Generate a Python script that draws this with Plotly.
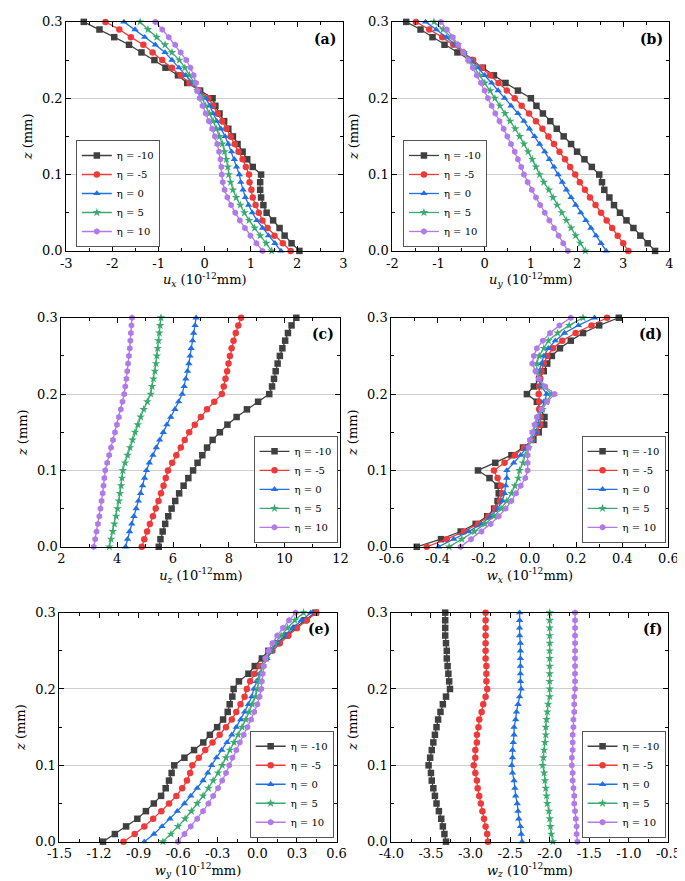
import plotly.graph_objects as go

Z = [0.00, 0.01, 0.02, 0.03, 0.04, 0.05, 0.06, 0.07, 0.08, 0.09, 0.10,
     0.11, 0.12, 0.13, 0.14, 0.15, 0.16, 0.17, 0.18, 0.19, 0.20,
     0.21, 0.22, 0.23, 0.24, 0.25, 0.26, 0.27, 0.28, 0.29, 0.30]
ETA_LABELS = ["η = -10", "η = -5", "η = 0", "η = 5", "η = 10"]

# (a) u_x
UX_M10 = [2.05, 1.88, 1.73, 1.62, 1.48, 1.34, 1.27, 1.22, 1.20, 1.20, 1.22, 1.04, 0.92, 0.82, 0.71, 0.61, 0.51, 0.42, 0.32, 0.23, 0.17, -0.10, -0.38, -0.58, -0.85, -1.09, -1.37, -1.64, -1.96, -2.28, -2.62]
UX_M5 = [1.86, 1.69, 1.51, 1.36, 1.25, 1.17, 1.10, 1.04, 1.01, 0.97, 0.96, 0.89, 0.82, 0.73, 0.65, 0.56, 0.47, 0.38, 0.28, 0.18, 0.08, -0.13, -0.33, -0.52, -0.71, -0.92, -1.13, -1.33, -1.60, -1.85, -2.15]
UX_0 = [1.65, 1.52, 1.38, 1.25, 1.13, 1.03, 0.95, 0.88, 0.83, 0.78, 0.75, 0.69, 0.64, 0.58, 0.51, 0.44, 0.35, 0.26, 0.18, 0.11, 0.02, -0.15, -0.26, -0.41, -0.56, -0.71, -0.86, -1.07, -1.30, -1.51, -1.75]
UX_5 = [1.45, 1.33, 1.20, 1.08, 0.96, 0.86, 0.77, 0.68, 0.61, 0.56, 0.52, 0.50, 0.47, 0.43, 0.38, 0.32, 0.25, 0.18, 0.10, 0.02, -0.06, -0.16, -0.22, -0.33, -0.43, -0.55, -0.71, -0.86, -1.04, -1.23, -1.40]
UX_10 = [1.25, 1.12, 0.99, 0.87, 0.76, 0.66, 0.57, 0.49, 0.43, 0.39, 0.37, 0.36, 0.34, 0.31, 0.27, 0.22, 0.16, 0.09, 0.02, -0.05, -0.11, -0.16, -0.19, -0.24, -0.31, -0.40, -0.52, -0.64, -0.78, -0.92, -1.07]

# (b) u_y
UY_M10 = [3.69, 3.53, 3.37, 3.22, 3.07, 2.93, 2.80, 2.70, 2.59, 2.54, 2.48, 2.32, 2.16, 2.00, 1.87, 1.71, 1.56, 1.42, 1.26, 1.12, 1.00, 0.72, 0.45, 0.20, -0.04, -0.32, -0.59, -0.87, -1.13, -1.39, -1.70]
UY_M5 = [3.11, 3.00, 2.88, 2.76, 2.64, 2.52, 2.40, 2.28, 2.17, 2.06, 1.96, 1.85, 1.74, 1.62, 1.50, 1.38, 1.25, 1.11, 0.96, 0.80, 0.65, 0.48, 0.30, 0.12, -0.06, -0.25, -0.46, -0.68, -0.92, -1.20, -1.49]
UY_0 = [2.63, 2.52, 2.41, 2.30, 2.19, 2.08, 1.97, 1.87, 1.77, 1.68, 1.59, 1.50, 1.40, 1.30, 1.19, 1.08, 0.97, 0.85, 0.72, 0.57, 0.43, 0.29, 0.15, 0.00, -0.14, -0.29, -0.45, -0.63, -0.83, -1.05, -1.28]
UY_5 = [2.18, 2.07, 1.97, 1.87, 1.77, 1.67, 1.57, 1.48, 1.39, 1.28, 1.19, 1.11, 1.03, 0.94, 0.85, 0.76, 0.66, 0.55, 0.44, 0.33, 0.22, 0.12, 0.00, -0.11, -0.22, -0.33, -0.45, -0.58, -0.73, -0.90, -1.10]
UY_10 = [1.80, 1.70, 1.60, 1.50, 1.40, 1.30, 1.20, 1.11, 1.02, 0.93, 0.85, 0.79, 0.72, 0.65, 0.57, 0.49, 0.41, 0.32, 0.23, 0.15, 0.07, 0.00, -0.08, -0.17, -0.26, -0.36, -0.46, -0.57, -0.69, -0.82, -0.95]

# (c) u_z
UZ_M10 = [5.49, 5.55, 5.63, 5.72, 5.83, 5.95, 6.08, 6.22, 6.38, 6.55, 6.72, 6.88, 7.05, 7.22, 7.42, 7.68, 7.95, 8.28, 8.65, 9.05, 9.45, 9.55, 9.62, 9.68, 9.75, 9.83, 9.92, 10.02, 10.12, 10.25, 10.42]
UZ_M5 = [4.88, 4.97, 5.07, 5.17, 5.28, 5.38, 5.48, 5.57, 5.66, 5.74, 5.82, 5.97, 6.12, 6.28, 6.42, 6.58, 6.78, 7.00, 7.22, 7.48, 7.75, 7.82, 7.88, 7.94, 7.99, 8.04, 8.10, 8.17, 8.25, 8.34, 8.44]
UZ_0 = [4.30, 4.37, 4.44, 4.52, 4.60, 4.68, 4.76, 4.84, 4.91, 4.98, 5.05, 5.15, 5.28, 5.40, 5.52, 5.65, 5.78, 5.92, 6.07, 6.20, 6.33, 6.40, 6.46, 6.52, 6.57, 6.61, 6.65, 6.70, 6.74, 6.79, 6.83]
UZ_5 = [3.72, 3.78, 3.84, 3.90, 3.96, 4.01, 4.06, 4.10, 4.14, 4.17, 4.20, 4.28, 4.37, 4.46, 4.55, 4.64, 4.74, 4.84, 4.95, 5.08, 5.20, 5.25, 5.30, 5.35, 5.39, 5.42, 5.45, 5.48, 5.51, 5.54, 5.57]
UZ_10 = [3.16, 3.21, 3.26, 3.31, 3.36, 3.40, 3.44, 3.48, 3.51, 3.54, 3.57, 3.64, 3.71, 3.78, 3.85, 3.92, 3.99, 4.06, 4.13, 4.19, 4.25, 4.29, 4.33, 4.36, 4.39, 4.42, 4.45, 4.47, 4.49, 4.51, 4.53]

# (d) w_x
WX_M10 = [-0.49, -0.385, -0.30, -0.235, -0.185, -0.155, -0.14, -0.135, -0.14, -0.175, -0.225, -0.15, -0.08, -0.03, 0.015, 0.038, 0.062, 0.063, 0.045, 0.03, -0.013, 0.017, 0.04, 0.06, 0.075, 0.095, 0.13, 0.177, 0.23, 0.30, 0.385]
WX_M5 = [-0.447, -0.36, -0.285, -0.225, -0.18, -0.15, -0.13, -0.12, -0.125, -0.14, -0.156, -0.11, -0.065, -0.025, 0.01, 0.03, 0.045, 0.045, 0.04, 0.04, 0.038, 0.04, 0.045, 0.05, 0.06, 0.075, 0.10, 0.14, 0.198, 0.267, 0.334]
WX_0 = [-0.396, -0.33, -0.265, -0.21, -0.17, -0.14, -0.12, -0.11, -0.105, -0.10, -0.10, -0.07, -0.04, -0.015, 0.01, 0.025, 0.035, 0.04, 0.05, 0.06, 0.073, 0.05, 0.04, 0.04, 0.05, 0.06, 0.08, 0.11, 0.15, 0.21, 0.28]
WX_5 = [-0.35, -0.295, -0.24, -0.195, -0.155, -0.125, -0.10, -0.08, -0.065, -0.05, -0.045, -0.03, -0.02, -0.005, 0.005, 0.015, 0.025, 0.035, 0.055, 0.072, 0.093, 0.06, 0.04, 0.03, 0.03, 0.04, 0.06, 0.08, 0.12, 0.17, 0.23]
WX_10 = [-0.30, -0.255, -0.21, -0.17, -0.135, -0.105, -0.08, -0.06, -0.04, -0.02, -0.01, -0.01, -0.01, -0.005, 0.0, 0.01, 0.02, 0.03, 0.05, 0.075, 0.107, 0.066, 0.038, 0.024, 0.01, 0.017, 0.03, 0.056, 0.087, 0.128, 0.177]

# (e) w_y
WY_M10 = [-1.17, -1.08, -0.995, -0.91, -0.845, -0.785, -0.73, -0.695, -0.67, -0.65, -0.63, -0.553, -0.48, -0.41, -0.36, -0.305, -0.26, -0.225, -0.21, -0.19, -0.18, -0.14, -0.068, -0.02, 0.034, 0.083, 0.15, 0.22, 0.29, 0.36, 0.44]
WY_M5 = [-1.015, -0.93, -0.857, -0.79, -0.728, -0.67, -0.614, -0.57, -0.534, -0.51, -0.493, -0.444, -0.395, -0.34, -0.286, -0.238, -0.194, -0.16, -0.128, -0.097, -0.08, -0.055, -0.02, 0.017, 0.065, 0.114, 0.17, 0.235, 0.30, 0.375, 0.447]
WY_0 = [-0.857, -0.784, -0.723, -0.663, -0.607, -0.553, -0.505, -0.456, -0.412, -0.376, -0.347, -0.31, -0.27, -0.23, -0.194, -0.16, -0.126, -0.097, -0.068, -0.043, -0.027, -0.007, 0.017, 0.041, 0.073, 0.107, 0.15, 0.204, 0.267, 0.333, 0.405]
WY_5 = [-0.716, -0.655, -0.602, -0.548, -0.50, -0.456, -0.412, -0.371, -0.335, -0.298, -0.267, -0.238, -0.209, -0.177, -0.146, -0.116, -0.087, -0.063, -0.039, -0.014, 0.0, 0.01, 0.024, 0.041, 0.066, 0.097, 0.133, 0.18, 0.228, 0.284, 0.35]
WY_10 = [-0.602, -0.553, -0.505, -0.456, -0.412, -0.371, -0.335, -0.298, -0.267, -0.238, -0.213, -0.189, -0.16, -0.133, -0.104, -0.075, -0.048, -0.024, 0.0, 0.017, 0.03, 0.034, 0.041, 0.049, 0.061, 0.083, 0.114, 0.15, 0.194, 0.24, 0.29]

# (f) w_z
WZ_M10 = [-3.31, -3.33, -3.35, -3.37, -3.40, -3.43, -3.45, -3.47, -3.49, -3.50, -3.53, -3.51, -3.49, -3.47, -3.45, -3.43, -3.41, -3.38, -3.35, -3.31, -3.26, -3.27, -3.28, -3.29, -3.30, -3.30, -3.31, -3.32, -3.32, -3.32, -3.32]
WZ_M5 = [-2.78, -2.79, -2.81, -2.83, -2.85, -2.87, -2.89, -2.91, -2.92, -2.94, -2.96, -2.94, -2.94, -2.92, -2.92, -2.90, -2.89, -2.86, -2.84, -2.81, -2.79, -2.80, -2.80, -2.80, -2.81, -2.81, -2.81, -2.81, -2.81, -2.81, -2.81]
WZ_0 = [-2.35, -2.36, -2.37, -2.39, -2.40, -2.41, -2.43, -2.44, -2.45, -2.47, -2.48, -2.47, -2.47, -2.46, -2.45, -2.45, -2.43, -2.42, -2.40, -2.38, -2.36, -2.37, -2.37, -2.37, -2.37, -2.37, -2.37, -2.38, -2.38, -2.38, -2.38]
WZ_5 = [-1.96, -1.98, -1.99, -2.00, -2.01, -2.03, -2.04, -2.05, -2.06, -2.07, -2.09, -2.08, -2.07, -2.06, -2.05, -2.05, -2.04, -2.03, -2.02, -2.00, -2.00, -2.00, -2.00, -2.00, -2.00, -2.00, -2.00, -2.00, -2.00, -2.00, -2.00]
WZ_10 = [-1.65, -1.66, -1.66, -1.67, -1.68, -1.69, -1.69, -1.70, -1.71, -1.71, -1.72, -1.72, -1.71, -1.71, -1.71, -1.70, -1.70, -1.69, -1.69, -1.69, -1.68, -1.68, -1.68, -1.68, -1.68, -1.68, -1.68, -1.68, -1.68, -1.68, -1.68]

# tick labels
XT_A = [-3, -2, -1, 0, 1, 2, 3]
XL_A = ["-3", "-2", "-1", "0", "1", "2", "3"]
XT_B = [-2, -1, 0, 1, 2, 3, 4]
XL_B = ["-2", "-1", "0", "1", "2", "3", "4"]
XT_C = [2, 4, 6, 8, 10, 12]
XL_C = ["2", "4", "6", "8", "10", "12"]
XT_D = [-0.6, -0.4, -0.2, 0.0, 0.2, 0.4, 0.6]
XL_D = ["-0.6", "-0.4", "-0.2", "0.0", "0.2", "0.4", "0.6"]
XT_E = [-1.5, -1.2, -0.9, -0.6, -0.3, 0.0, 0.3, 0.6]
XL_E = ["-1.5", "-1.2", "-0.9", "-0.6", "-0.3", "0.0", "0.3", "0.6"]
XT_F = [-4.0, -3.5, -3.0, -2.5, -2.0, -1.5, -1.0, -0.5]
XL_F = ["-4.0", "-3.5", "-3.0", "-2.5", "-2.0", "-1.5", "-1.0", "-0.5"]
YT = [0.0, 0.1, 0.2, 0.3]
YL = ["0.0", "0.1", "0.2", "0.3"]

COLORS = ["#404040", "#f03a3a", "#1f6fe6", "#3aab6e", "#b27ae8"]
SYMBOLS = ["square", "circle", "triangle-up", "star", "hexagon"]
FONT = "DejaVu Serif"

W, H = 685, 881
panels = [
    dict(series=[UX_M10, UX_M5, UX_0, UX_5, UX_10], box=(47, 335, 7, 240), xt=XT_A, xl=XL_A,
         rng=[-3, 3], minor=0.5, title="<i>u<sub>x</sub></i> (10<sup>-12</sup>mm)", label="(a)",
         leg=(57, 236, "left")),
    dict(series=[UY_M10, UY_M5, UY_0, UY_5, UY_10], box=(386, 674, 7, 240), xt=XT_B, xl=XL_B,
         rng=[-2, 4], minor=0.5, title="<i>u<sub>y</sub></i> (10<sup>-12</sup>mm)", label="(b)",
         leg=(397, 236, "left")),
    dict(series=[UZ_M10, UZ_M5, UZ_0, UZ_5, UZ_10], box=(42, 332, 308, 541), xt=XT_C, xl=XL_C,
         rng=[2, 12], minor=1, title="<i>u<sub>z</sub></i> (10<sup>-12</sup>mm)", label="(c)",
         leg=(329, 537, "right")),
    dict(series=[WX_M10, WX_M5, WX_0, WX_5, WX_10], box=(385, 673, 308, 541), xt=XT_D, xl=XL_D,
         rng=[-0.6, 0.6], minor=0.1, title="<i>w<sub>x</sub></i> (10<sup>-12</sup>mm)", label="(d)",
         leg=(670, 537, "right")),
    dict(series=[WY_M10, WY_M5, WY_0, WY_5, WY_10], box=(40, 328, 608, 841), xt=XT_E, xl=XL_E,
         rng=[-1.5, 0.6], minor=0.15, title="<i>w<sub>y</sub></i> (10<sup>-12</sup>mm)", label="(e)",
         leg=(325, 837, "right")),
    dict(series=[WZ_M10, WZ_M5, WZ_0, WZ_5, WZ_10], box=(385, 673, 608, 841), xt=XT_F, xl=XL_F,
         rng=[-4.0, -0.5], minor=0.25, title="<i>w<sub>z</sub></i> (10<sup>-12</sup>mm)", label="(f)",
         leg=(670, 837, "right")),
]

fig = go.Figure()
layout = dict(width=W, height=H, margin=dict(l=0, r=0, t=0, b=0),
              paper_bgcolor="white", plot_bgcolor="white",
              font=dict(family=FONT, size=13, color="black"), annotations=[])

for i, p in enumerate(panels):
    n = "" if i == 0 else str(i + 1)
    legname = "legend" + n
    for k, vals in enumerate(p["series"]):
        fig.add_trace(go.Scatter(
            x=vals, y=Z, mode="lines+markers", name=ETA_LABELS[k],
            line=dict(color=COLORS[k], width=1.3),
            marker=dict(symbol=SYMBOLS[k], size=6.5, color=COLORS[k], line=dict(width=0)),
            xaxis="x" + n, yaxis="y" + n, legend=legname, cliponaxis=False,
        ))
    x0, x1, y0, y1 = p["box"]
    layout["xaxis" + n] = dict(
        domain=[x0 / W, x1 / W], anchor="y" + n, range=p["rng"],
        tickvals=p["xt"], ticktext=p["xl"], showgrid=False, zeroline=False,
        showline=True, linecolor="black", linewidth=1, mirror="ticks",
        ticks="inside", ticklen=5, tickcolor="black",
        minor=dict(ticks="inside", ticklen=3, dtick=p["minor"], tickcolor="black", showgrid=False),
        tickfont=dict(family=FONT, size=13), title=dict(text=p["title"], font=dict(family=FONT, size=13), standoff=2),
    )
    layout["yaxis" + n] = dict(
        domain=[1 - y1 / H, 1 - y0 / H], anchor="x" + n, range=[0, 0.3],
        tickvals=YT, ticktext=YL, showgrid=True, gridcolor="#cfcfcf", gridwidth=1, zeroline=False,
        showline=True, linecolor="black", linewidth=1, mirror="ticks",
        ticks="inside", ticklen=5, tickcolor="black",
        minor=dict(ticks="inside", ticklen=3, dtick=0.05, tickcolor="black", showgrid=False),
        tickfont=dict(family=FONT, size=13), title=dict(text="<i>z</i> (mm)", font=dict(family=FONT, size=13), standoff=6),
    )
    lx, ly, side = p["leg"]
    layout[legname] = dict(
        x=lx / W, y=1 - ly / H, xanchor=side, yanchor="bottom",
        bgcolor="white", bordercolor="#555555", borderwidth=1,
        font=dict(family=FONT, size=10), itemwidth=30, tracegroupgap=0,
    )
    layout["annotations"].append(dict(
        text="<b>" + p["label"] + "</b>", x=(x1 - 5) / W, y=1 - (y0 + 17) / H,
        xref="paper", yref="paper", xanchor="right", yanchor="middle",
        showarrow=False, font=dict(family=FONT, size=14),
    ))

fig.update_layout(**layout)
fig.write_html("out.html")
